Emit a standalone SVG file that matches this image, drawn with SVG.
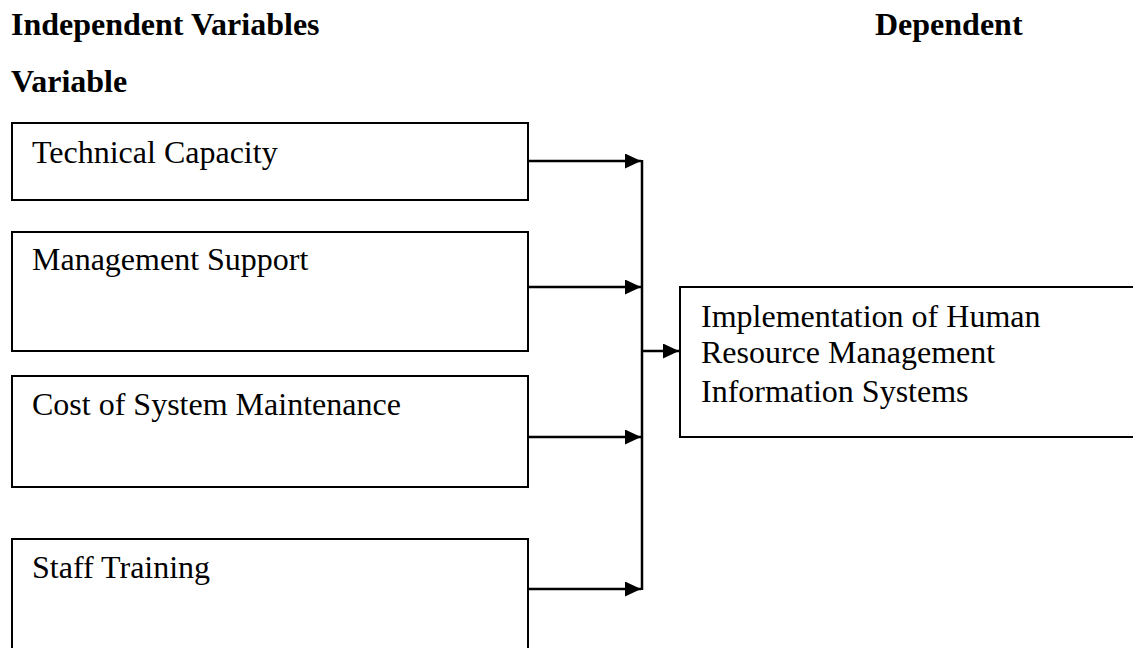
<svg xmlns="http://www.w3.org/2000/svg" width="1133" height="648" viewBox="0 0 1133 648">
<style>
.h{font-family:"Liberation Serif","Times New Roman",serif;font-size:32px;font-weight:bold;fill:#000}
.t{font-family:"Liberation Serif","Times New Roman",serif;font-size:32px;fill:#000}
.box{fill:#fff;stroke:#000;stroke-width:2}
.ln{stroke:#000;stroke-width:2.5;fill:none}
</style>
<defs>
<marker id="ah" markerWidth="16" markerHeight="15" refX="16" refY="7.5" orient="auto" markerUnits="userSpaceOnUse">
<path d="M0,0 L16,7.5 L0,15 Z" fill="#000"/>
</marker>
</defs>
<rect width="1133" height="648" fill="#fff"/>
<g id="headings">
<text class="h" x="11" y="35">Independent Variables</text>
<text class="h" x="875" y="35">Dependent</text>
<text class="h" x="11" y="92">Variable</text>
</g>
<g id="n1"><rect class="box" x="12" y="123" width="516" height="77"/><text class="t" x="32" y="163">Technical Capacity</text></g>
<g id="n2"><rect class="box" x="12" y="232" width="516" height="119"/><text class="t" x="32" y="270">Management Support</text></g>
<g id="n3"><rect class="box" x="12" y="376" width="516" height="111"/><text class="t" x="32" y="415">Cost of System Maintenance</text></g>
<g id="n4"><rect class="box" x="12" y="539" width="516" height="120"/><text class="t" x="32" y="578">Staff Training</text></g>
<g id="n5"><rect class="box" x="680" y="287" width="460" height="150"/>
<text class="t" x="701" y="327">Implementation of Human</text>
<text class="t" x="701" y="363">Resource Management</text>
<text class="t" x="701" y="402">Information Systems</text></g>
<g id="connectors">
<line class="ln" x1="528" y1="161" x2="641" y2="161" marker-end="url(#ah)"/>
<line class="ln" x1="528" y1="287" x2="641" y2="287" marker-end="url(#ah)"/>
<line class="ln" x1="528" y1="437" x2="641" y2="437" marker-end="url(#ah)"/>
<line class="ln" x1="528" y1="589" x2="641" y2="589" marker-end="url(#ah)"/>
<line class="ln" x1="642" y1="160" x2="642" y2="590"/>
<line class="ln" x1="642" y1="351" x2="679" y2="351" marker-end="url(#ah)"/>
</g>
</svg>
